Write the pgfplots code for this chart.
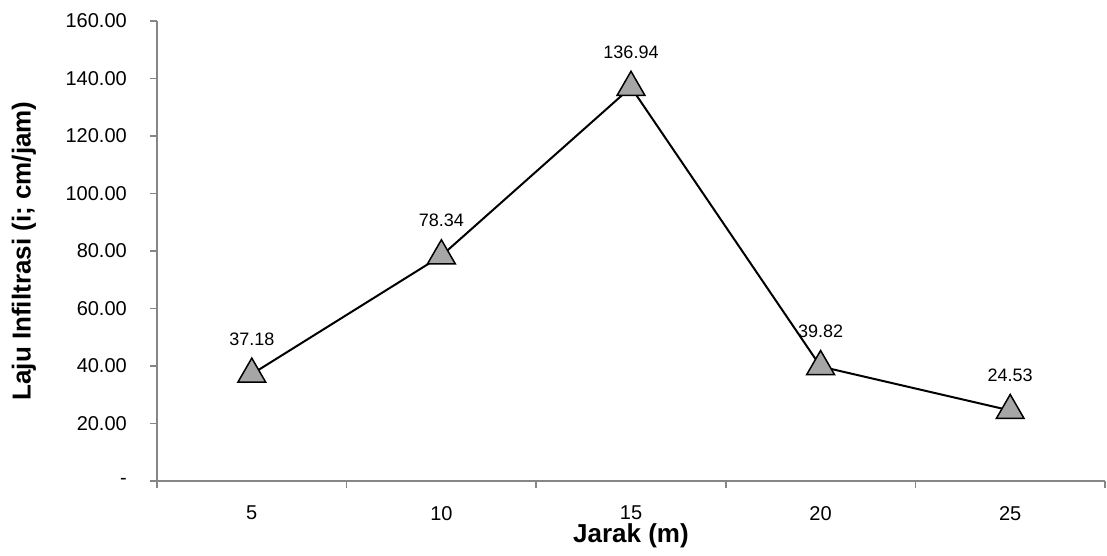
\documentclass[border=0pt]{standalone}
\usepackage{pgfplots}
\pgfplotsset{compat=1.18}
\usepackage{fontspec}
\setmainfont{Liberation Sans}
\definecolor{axgray}{RGB}{134,134,134}
\definecolor{mkgray}{RGB}{166,166,166}
\begin{document}
\begin{tikzpicture}
\useasboundingbox (0,0) rectangle (1107pt,556pt);
\begin{axis}[
  at={(157pt,75pt)}, anchor=south west,
  scale only axis, width=948pt, height=460pt,
  xmin=-0.5, xmax=4.5, ymin=0, ymax=160,
  clip=false,
  axis x line*=bottom, axis y line*=left,
  axis line style={-, draw=axgray, line width=1.5pt},
  tick style={draw=axgray, line width=1.5pt},
  tick align=outside,
  xtick={0,1,2,3,4},
  xticklabels={5,10,15,20,25},
  major x tick style={draw=none},
  minor xtick={-0.5,0.5,1.5,2.5,3.5,4.5},
  minor tick length=7pt,
  ytick={0,20,40,60,80,100,120,140,160},
  yticklabels={-,20.00,40.00,60.00,80.00,100.00,120.00,140.00,160.00},
  major tick length=7pt,
  xticklabel style={font=\fontsize{20}{24}\selectfont, anchor=north, inner sep=0pt, yshift=-18pt},
  yticklabel style={font=\fontsize{20}{24}\selectfont, anchor=east, inner sep=0pt, xshift=-23pt},
  xlabel={\textbf{Jarak (m)}},
  ylabel={\textbf{Laju Infiltrasi (i; cm/jam)}},
  xlabel style={font=\fontsize{26}{30}\selectfont, at={(axis description cs:0.5,0)}, anchor=base, inner sep=0pt, yshift=-62pt},
  ylabel style={font=\fontsize{26}{30}\selectfont, at={(axis description cs:0,0.5)}, anchor=center, yshift=133pt},
  /pgf/number format/assume math mode=true,
  nodes near coords,
  nodes near coords style={font=\fontsize{18}{22}\selectfont, anchor=south, inner sep=0pt, yshift=28pt,
    /pgf/number format/fixed, /pgf/number format/precision=2, /pgf/number format/fixed zerofill},
]
\addplot[black, line width=2pt, mark=triangle*, mark size=16pt,
  mark options={fill=mkgray, draw=black, line width=1.5pt}]
  coordinates {(0,37.18) (1,78.34) (2,136.94) (3,39.82) (4,24.53)};
\end{axis}
\end{tikzpicture}
\end{document}
